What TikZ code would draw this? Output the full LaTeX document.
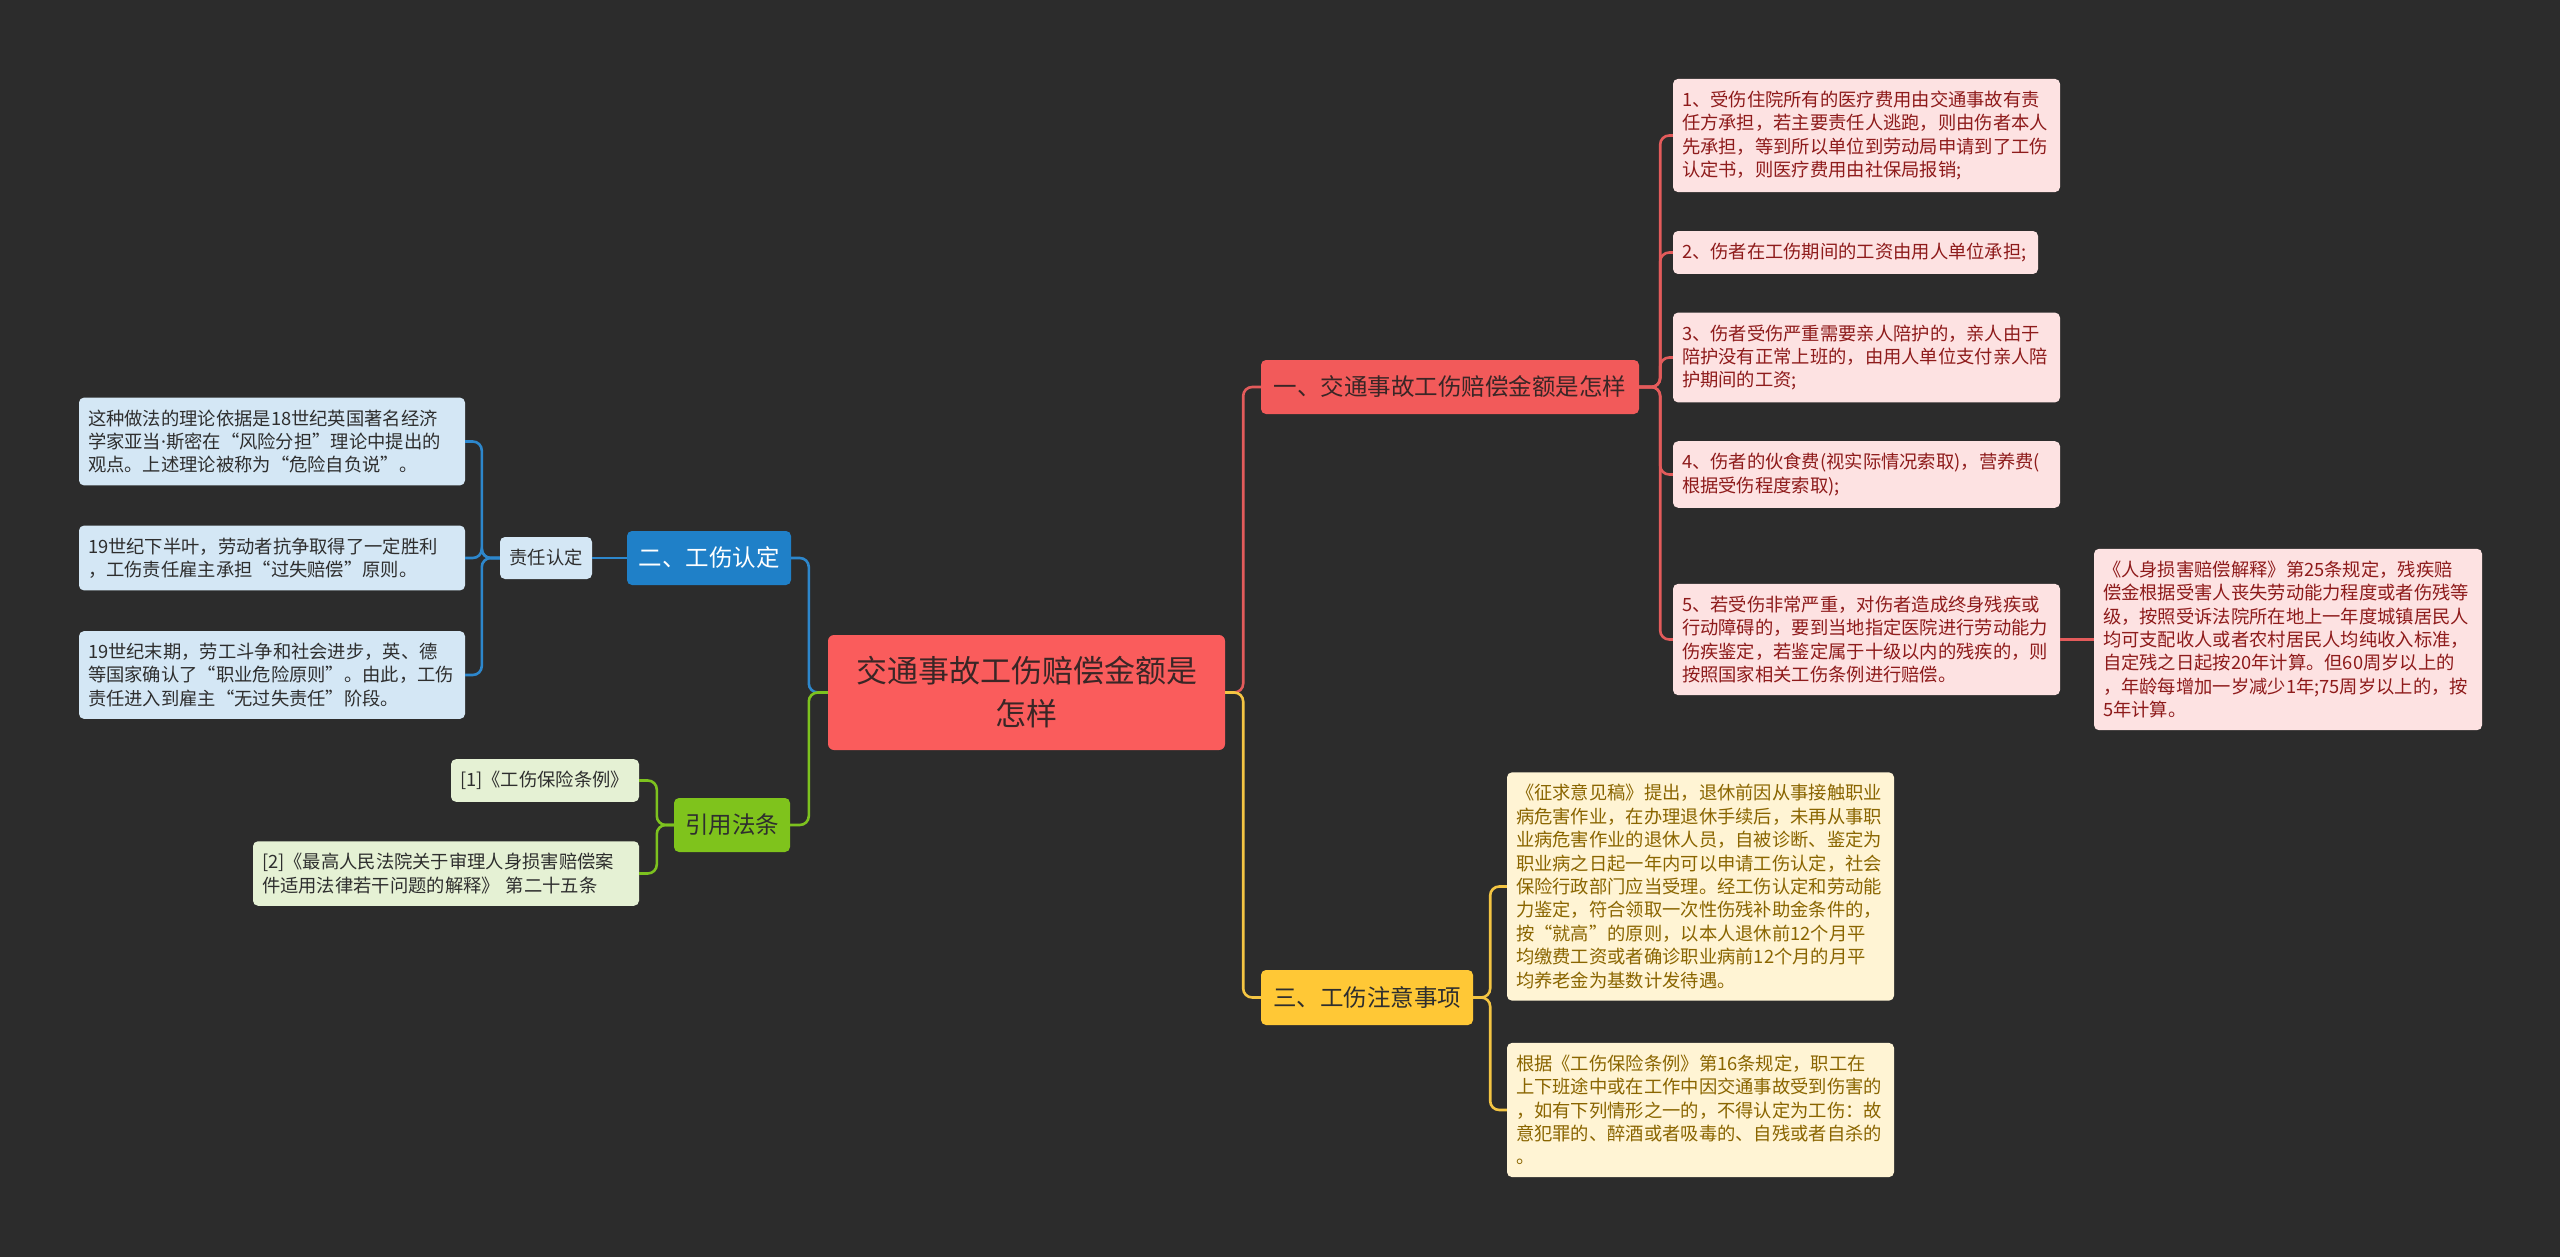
\documentclass[tikz,border=0pt]{standalone}
\usepackage{fontspec}
\newfontfamily\cjk{Noto Sans CJK SC}
\newfontfamily\latin{Noto Sans}
\definecolor{BgGray}{HTML}{2C2C2C}
\definecolor{CoreRed}{HTML}{FA5C5C}
\definecolor{CoreText}{HTML}{3A2626}
\definecolor{SecRed}{HTML}{F25A5A}
\definecolor{RedLine}{HTML}{E35B5B}
\definecolor{RedLeaf}{HTML}{FDE2E2}
\definecolor{RedText}{HTML}{8E1B1B}
\definecolor{SecBlue}{HTML}{1F80C8}
\definecolor{BlueLine}{HTML}{2D87CC}
\definecolor{BlueLeaf}{HTML}{D4E7F5}
\definecolor{SecGreen}{HTML}{7FC31C}
\definecolor{GreenLine}{HTML}{7DC21F}
\definecolor{GreenLeaf}{HTML}{E5F1D4}
\definecolor{SecGold}{HTML}{FFC836}
\definecolor{GoldLine}{HTML}{F4C543}
\definecolor{GoldLeaf}{HTML}{FFF4D4}
\definecolor{GoldText}{HTML}{8A6500}
\definecolor{DarkText}{HTML}{2E2E2E}

\begin{document}
\begin{tikzpicture}[x=1pt,y=-1pt,
    leaf/.style={rounded corners=5pt,align=left,inner xsep=9pt,inner ysep=12pt,
      text width=369pt,font=\cjk\fontsize{18.3}{23.4}\selectfont},
    redleaf/.style={leaf,fill=RedLeaf,text=RedText},
    blueleaf/.style={leaf,fill=BlueLeaf,text=DarkText},
    greenleaf/.style={leaf,fill=GreenLeaf,text=DarkText},
    goldleaf/.style={leaf,fill=GoldLeaf,text=GoldText},
    branch/.style={rounded corners=5pt,inner sep=0pt,font=\cjk\fontsize{23.5}{28}\selectfont},
    link/.style={line width=2.6pt,rounded corners=9pt}]
  \useasboundingbox (0,0) rectangle (2560,1257);
  \fill[BgGray] (0,0) rectangle (2560,1257);

  % centre
  \node[rounded corners=6pt,fill=CoreRed,text=CoreText,align=center,
    minimum width=397pt,minimum height=115pt,
    font=\cjk\fontsize{31}{43}\selectfont] (ctr) at (1026.5,692.5)
    {交通事故工伤赔偿金额是\\怎样};

  % main branches
  \node[branch,fill=SecRed,text=CoreText,minimum width=378pt,minimum height=54pt]
    (secA) at (1450,387) {一、交通事故工伤赔偿金额是怎样};
  \node[branch,fill=SecBlue,text=white,minimum width=164pt,minimum height=54pt]
    (secB) at (709,558) {二、工伤认定};
  \node[branch,fill=SecGold,text=DarkText,minimum width=212pt,minimum height=55pt]
    (secC) at (1367,997.5) {三、工伤注意事项};
  \node[branch,fill=SecGreen,text=DarkText,minimum width=116pt,minimum height=54pt]
    (refs) at (732,825) {引用法条};
  \node[rounded corners=5pt,fill=BlueLeaf,text=DarkText,minimum width=92pt,
    minimum height=42pt,inner sep=0pt,font=\cjk\fontsize{18.3}{22}\selectfont]
    (duty) at (546,558) {责任认定};

  % red leaves
  \node[redleaf] (r1) at (1866.5,135.5)
    {1、受伤住院所有的医疗费用由交通事故有责\\任方承担，若主要责任人逃跑，则由伤者本人\\先承担，等到所以单位到劳动局申请到了工伤\\认定书，则医疗费用由社保局报销;};
  \node[redleaf,text width=347pt] (r2) at (1855.5,252.5)
    {2、伤者在工伤期间的工资由用人单位承担;};
  \node[redleaf] (r3) at (1866.5,357.5)
    {3、伤者受伤严重需要亲人陪护的，亲人由于\\陪护没有正常上班的，由用人单位支付亲人陪\\护期间的工资;};
  \node[redleaf] (r4) at (1866.5,474.5)
    {4、伤者的伙食费(视实际情况索取)，营养费(\\根据受伤程度索取);};
  \node[redleaf] (r5) at (1866.5,639.5)
    {5、若受伤非常严重，对伤者造成终身残疾或\\行动障碍的，要到当地指定医院进行劳动能力\\伤疾鉴定，若鉴定属于十级以内的残疾的，则\\按照国家相关工伤条例进行赔偿。};
  \node[redleaf,text width=370pt] (r6) at (2288,639.5)
    {《人身损害赔偿解释》第25条规定，残疾赔\\偿金根据受害人丧失劳动能力程度或者伤残等\\级，按照受诉法院所在地上一年度城镇居民人\\均可支配收人或者农村居民人均纯收入标准，\\自定残之日起按20年计算。但60周岁以上的\\，年龄每增加一岁减少1年;75周岁以上的，按\\5年计算。};

  % blue leaves
  \node[blueleaf,text width=368pt] (l1) at (272,441.5)
    {这种做法的理论依据是18世纪英国著名经济\\学家亚当{\latin ·}斯密在“风险分担”理论中提出的\\观点。上述理论被称为“危险自负说”。};
  \node[blueleaf,text width=368pt] (l2) at (272,558)
    {19世纪下半叶，劳动者抗争取得了一定胜利\\，工伤责任雇主承担“过失赔偿”原则。};
  \node[blueleaf,text width=368pt] (l3) at (272,675)
    {19世纪末期，劳工斗争和社会进步，英、德\\等国家确认了“职业危险原则”。由此，工伤\\责任进入到雇主“无过失责任”阶段。};

  % green leaves
  \node[greenleaf,text width=170pt] (g1) at (545,780.5) {[1]《工伤保险条例》};
  \node[greenleaf,text width=368pt] (g2) at (446,873.5)
    {[2]《最高人民法院关于审理人身损害赔偿案\\件适用法律若干问题的解释》 第二十五条};

  % gold leaves
  \node[goldleaf] (y1) at (1700.5,886.5)
    {《征求意见稿》提出，退休前因从事接触职业\\病危害作业，在办理退休手续后，未再从事职\\业病危害作业的退休人员，自被诊断、鉴定为\\职业病之日起一年内可以申请工伤认定，社会\\保险行政部门应当受理。经工伤认定和劳动能\\力鉴定，符合领取一次性伤残补助金条件的，\\按“就高”的原则，以本人退休前12个月平\\均缴费工资或者确诊职业病前12个月的月平\\均养老金为基数计发待遇。};
  \node[goldleaf] (y2) at (1700.5,1110)
    {根据《工伤保险条例》第16条规定，职工在\\上下班途中或在工作中因交通事故受到伤害的\\，如有下列情形之一的，不得认定为工伤：故\\意犯罪的、醉酒或者吸毒的、自残或者自杀的\\。};

  % connectors
  \draw[link,RedLine] (ctr.east) -- ++(18,0) |- (secA.west);
  \draw[link,GoldLine] (ctr.east) -- ++(18,0) |- (secC.west);
  \draw[link,BlueLine] (ctr.west) -- ++(-19,0) |- (secB.east);
  \draw[link,GreenLine] (ctr.west) -- ++(-19,0) |- (refs.east);
  \draw[link,BlueLine] (secB.west) -- (duty.east);
  \foreach \n in {l1,l2,l3}
    \draw[link,BlueLine] (duty.west) -- ++(-18,0) |- (\n.east);
  \foreach \n in {g1,g2}
    \draw[link,GreenLine] (refs.west) -- ++(-17,0) |- (\n.east);
  \foreach \n in {r1,r2,r3,r4,r5}
    \draw[link,RedLine] (secA.east) -- ++(21,0) |- (\n.west);
  \draw[link,RedLine] (r5.east) -- (r6.west);
  \foreach \n in {y1,y2}
    \draw[link,GoldLine] (secC.east) -- ++(17,0) |- (\n.west);
\end{tikzpicture}
\end{document}
